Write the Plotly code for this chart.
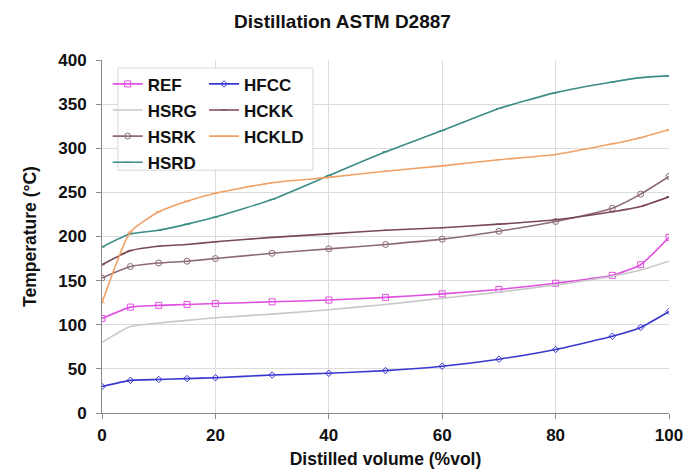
import plotly.graph_objects as go

vol = [0, 5, 10, 15, 20, 30, 40, 50, 60, 70, 80, 90, 95, 100]
REF = [107, 120, 122, 123, 124, 126, 128, 131, 135, 140, 147, 156, 168, 199]
HSRG = [80, 98, 102, 105, 108, 112, 117, 123, 130, 137, 145, 155, 162, 172]
HSRK = [153, 166, 170, 172, 175, 181, 186, 191, 197, 206, 217, 232, 248, 268]
HSRD = [188, 203, 207, 214, 222, 242, 269, 296, 320, 345, 363, 375, 380, 382]
HFCC = [30, 37, 38, 39, 40, 43, 45, 48, 53, 61, 72, 87, 97, 115]
HCKK = [168, 184, 189, 191, 194, 199, 203, 207, 210, 214, 219, 228, 234, 245]
HCKLD = [125, 205, 228, 240, 249, 261, 267, 274, 280, 287, 293, 305, 312, 321]

FONT = "Liberation Sans, Arial, sans-serif"

series = [
    ("REF", REF, "#e050e0", "square-open", 6, "legend"),
    ("HSRG", HSRG, "#c8c8c8", None, 0, "legend"),
    ("HSRK", HSRK, "#8c6a78", "circle-open", 6, "legend"),
    ("HSRD", HSRD, "#3a8c84", "line-ew", 4, "legend"),
    ("HFCC", HFCC, "#3838d0", "diamond-open", 5, "legend2"),
    ("HCKK", HCKK, "#7a4850", "line-ew", 4, "legend2"),
    ("HCKLD", HCKLD, "#f0a064", "line-ew", 4, "legend2"),
]

fig = go.Figure()
for i, (name, vals, col, sym, size, lg) in enumerate(series):
    mode = "lines+markers" if sym else "lines"
    marker = dict(symbol=sym, size=size, color=col,
                  line=dict(color=col, width=1)) if sym else None
    fig.add_trace(go.Scatter(
        x=vol, y=vals, name=name, mode=mode,
        line=dict(color=col, width=1.6, shape="spline", smoothing=0.5),
        marker=marker, legend=lg, legendgroup=name,
    ))

legfont = dict(family=FONT, size=17, color="#111", weight="bold")
fig.update_layout(
    width=685, height=473,
    margin=dict(l=102, r=16, t=60, b=60),
    paper_bgcolor="white", plot_bgcolor="white",
    font=dict(family=FONT, size=15, color="#111", weight="bold"),
    title=dict(text="Distillation ASTM D2887", x=0.5, xanchor="center",
               y=0.955, yanchor="middle",
               font=dict(family=FONT, size=19, color="#111", weight="bold")),
    showlegend=True,
    legend=dict(x=0.01, y=0.982, xanchor="left", yanchor="top",
                bgcolor="rgba(0,0,0,0)", borderwidth=0, tracegroupgap=1,
                font=legfont),
    legend2=dict(x=0.18, y=0.982, xanchor="left", yanchor="top",
                 bgcolor="rgba(0,0,0,0)", borderwidth=0, tracegroupgap=1,
                 font=legfont),
    shapes=[dict(type="rect", xref="paper", yref="paper",
                 x0=0.028, x1=0.372, y0=0.688, y1=0.977,
                 line=dict(color="#d8d8d8", width=1), fillcolor="white",
                 layer="above")],
)

tickfont = dict(family=FONT, size=17, color="#111", weight="bold")
fig.update_xaxes(
    range=[0, 100], tickvals=[0, 20, 40, 60, 80, 100],
    showgrid=True, gridcolor="#dcdcdc", gridwidth=1,
    showline=True, linecolor="#8a8a8a", linewidth=1,
    ticks="outside", ticklen=5, tickcolor="#8a8a8a",
    tickfont=tickfont, ticklabelstandoff=2, automargin=False,
    title=dict(text="Distilled volume (%vol)", standoff=8,
               font=dict(family=FONT, size=17.5, color="#111", weight="bold")),
    zeroline=False,
)
fig.update_yaxes(
    range=[0, 400], tickvals=list(range(0, 401, 50)),
    showgrid=True, gridcolor="#dcdcdc", gridwidth=1,
    showline=True, linecolor="#8a8a8a", linewidth=1,
    ticks="outside", ticklen=5, tickcolor="#8a8a8a",
    tickfont=tickfont, ticklabelstandoff=6, automargin=False,
    title=dict(text="Temperature (°C)", standoff=17,
               font=dict(family=FONT, size=17.5, color="#111", weight="bold")),
    zeroline=False,
)

fig.write_html("out.html")
